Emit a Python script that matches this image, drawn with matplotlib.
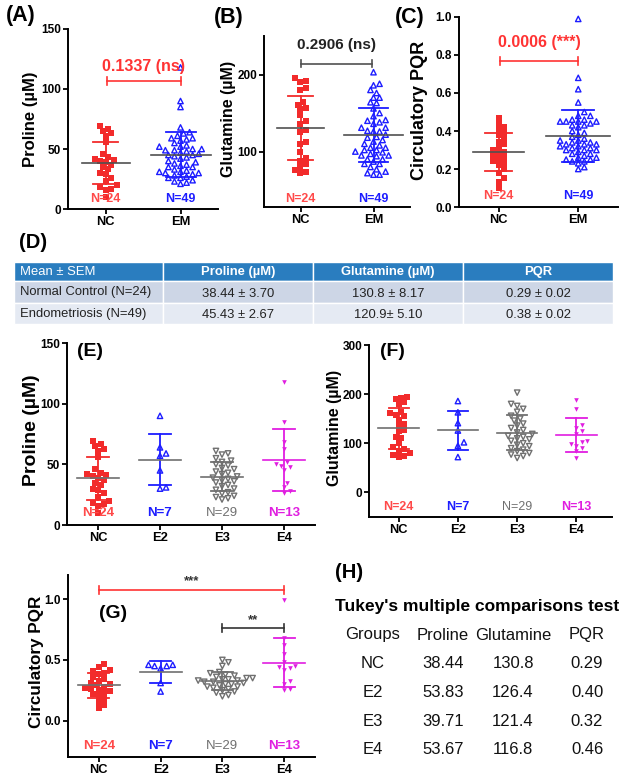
import numpy as np
import matplotlib
matplotlib.use('Agg')
import matplotlib.pyplot as plt
from matplotlib.patches import Rectangle
from matplotlib.transforms import blended_transform_factory

plt.rcParams['font.family'] = ['Liberation Sans', 'DejaVu Sans']

# ---------------- data ----------------
groups2 = ['NC', 'EM']
groups4 = ['NC', 'E2', 'E3', 'E4']
n_two = ['N=24', 'N=49']
n_four = ['N=24', 'N=7', 'N=29', 'N=13']

pro_nc = [69, 67, 65, 63, 61, 56, 46, 43, 42, 41, 40, 39, 37, 35, 33, 30, 29, 26, 23, 20, 18, 17, 16, 10]
pro_e2 = [90, 64, 59, 57, 45, 31, 30]
pro_e3 = [61, 59, 58, 55, 53, 52, 50, 49, 47, 46, 44, 43, 42, 40, 39, 38, 37, 36, 35, 33,
          32, 30, 29, 27, 26, 24, 23, 22, 21]
pro_e4 = [118, 85, 68, 63, 52, 50, 49, 48, 45, 35, 31, 28, 26]

glu_nc = [195, 192, 190, 183, 180, 164, 161, 157, 155, 148, 140, 136, 128, 125, 113, 110,
          100, 92, 88, 84, 80, 76, 74, 72]
glu_e2 = [186, 163, 141, 126, 102, 95, 72]
glu_e3 = [203, 180, 176, 170, 164, 156, 150, 146, 140, 136, 131, 127, 122, 119, 115, 113,
          110, 108, 105, 100, 97, 94, 90, 87, 84, 80, 77, 74, 70]
glu_e4 = [188, 170, 138, 131, 126, 118, 105, 102, 99, 95, 90, 84, 70]

pqr_nc = [0.47, 0.44, 0.42, 0.41, 0.39, 0.38, 0.36, 0.34, 0.33, 0.31, 0.30, 0.29, 0.28,
          0.27, 0.26, 0.25, 0.24, 0.23, 0.22, 0.20, 0.18, 0.15, 0.13, 0.10]
pqr_e2 = [0.46, 0.46, 0.45, 0.45, 0.43, 0.31, 0.24]
pqr_e3 = [0.50, 0.48, 0.45, 0.40, 0.39, 0.38, 0.37, 0.36, 0.35, 0.35, 0.34, 0.34, 0.33,
          0.33, 0.32, 0.32, 0.31, 0.30, 0.30, 0.29, 0.28, 0.28, 0.27, 0.26, 0.25, 0.24,
          0.23, 0.21, 0.20]
pqr_e4 = [0.99, 0.68, 0.62, 0.55, 0.48, 0.45, 0.44, 0.43, 0.42, 0.33, 0.30, 0.26, 0.25]

pval_a = '0.1337 (ns)'
pval_b = '0.2906 (ns)'
pval_c = '0.0006 (***)'
sig_g_long = '***'
sig_g_short = '**'

table_d_header = ['Mean ± SEM', 'Proline (µM)', 'Glutamine (µM)', 'PQR']
table_d_rows = [['Normal Control (N=24)', '38.44 ± 3.70', '130.8 ± 8.17', '0.29 ± 0.02'],
                ['Endometriosis (N=49)', '45.43 ± 2.67', '120.9± 5.10', '0.38 ± 0.02']]

tukey_title = "Tukey's multiple comparisons test"
tukey_header = ['Groups', 'Proline', 'Glutamine', 'PQR']
tukey_rows = [['NC', '38.44', '130.8', '0.29'],
              ['E2', '53.83', '126.4', '0.40'],
              ['E3', '39.71', '121.4', '0.32'],
              ['E4', '53.67', '116.8', '0.46']]

# ---------------- styling ----------------
RED = '#f22b2b'
RED_T = '#ff4a4a'
BLUE = '#1d1dff'
GRAY = '#707070'
MAG = '#e01ee0'
MEANC = '#505050'

W, H = 625, 780
fig = plt.figure(figsize=(W / 100, H / 100), dpi=100)


def ax_at(l, t, r, b):
    return fig.add_axes([l / W, 1 - b / H, (r - l) / W, (b - t) / H])


def ftext(x, y, s, **kw):
    fig.text(x / W, 1 - y / H, s, **kw)


def style(ax, xlabels, ylim, yticks, yticklabels, xlim):
    ax.set_xlim(*xlim)
    ax.set_ylim(*ylim)
    for sp in ['top', 'right']:
        ax.spines[sp].set_visible(False)
    for sp in ['left', 'bottom']:
        ax.spines[sp].set_linewidth(1.4)
    ax.set_xticks(range(len(xlabels)))
    ax.set_xticklabels(xlabels, fontsize=9.3, fontweight='bold')
    ax.set_yticks(yticks)
    ax.set_yticklabels(yticklabels, fontsize=8.5, fontweight='bold')
    ax.tick_params(direction='out', length=3.5, width=1.3, pad=1.5)
    ax.patch.set_alpha(0)


def swarm(ax, xc, vals, d):
    vals = np.asarray(vals, float)
    pts = ax.transData.transform(np.column_stack([np.full(len(vals), float(xc)), vals]))
    x0 = pts[0, 0]
    ys = pts[:, 1]
    order = np.argsort(ys)
    placed = []
    xs = np.zeros(len(vals))
    step = d * 0.55
    for i in order:
        y = ys[i]
        k = 0
        chosen = None
        while chosen is None:
            cands = [0.0] if k == 0 else [k * step, -k * step]
            for c in cands:
                ok = True
                for (px, py) in placed:
                    if (px - c) ** 2 + (py - y) ** 2 < d * d:
                        ok = False
                        break
                if ok:
                    chosen = c
                    break
            k += 1
        placed.append((chosen, y))
        xs[i] = x0 + chosen
    back = ax.transData.inverted().transform(np.column_stack([xs, ys]))
    return back[:, 0]


def points(ax, xc, vals, kind, color, d):
    xs = swarm(ax, xc, vals, d)
    if kind == 'sq':
        ax.scatter(xs, vals, marker='s', s=13, color=color, lw=0, zorder=3, clip_on=False)
    elif kind == 'up_open':
        ax.scatter(xs, vals, marker='^', s=15, facecolors='none', edgecolors=color,
                   linewidths=1.0, zorder=3, clip_on=False)
    elif kind == 'dn_open':
        ax.scatter(xs, vals, marker='v', s=15, facecolors='none', edgecolors=color,
                   linewidths=1.0, zorder=3, clip_on=False)
    elif kind == 'dn_fill':
        ax.scatter(xs, vals, marker='v', s=11, color=color, lw=0, zorder=3, clip_on=False)


def stats(ax, xc, vals, color, meancolor, mw, cw):
    m = np.mean(vals)
    sd = np.std(vals, ddof=1)
    ax.plot([xc, xc], [m - sd, m + sd], color=color, lw=1.3, zorder=4)
    ax.plot([xc - cw, xc + cw], [m + sd] * 2, color=color, lw=1.3, zorder=4)
    ax.plot([xc - cw, xc + cw], [m - sd] * 2, color=color, lw=1.3, zorder=4)
    ax.plot([xc - mw, xc + mw], [m] * 2, color=meancolor, lw=1.2, zorder=5)


def bracket(ax, x1, x2, y, color, text, ty, fs, fw='bold', tcolor=None):
    ylo, yhi = ax.get_ylim()
    h = 0.022 * (yhi - ylo)
    ax.plot([x1, x2], [y, y], color=color, lw=1.2, zorder=5)
    for x in (x1, x2):
        ax.plot([x, x], [y - h, y + h], color=color, lw=1.2, zorder=5)
    ax.text((x1 + x2) / 2, ty, text, color=tcolor or color, fontsize=fs, fontweight=fw,
            ha='center', va='center')


def nlabels(ax, labels, colors, yfrac, weights, fs=9):
    tr = blended_transform_factory(ax.transData, ax.transAxes)
    for i, (lab, c, w) in enumerate(zip(labels, colors, weights)):
        ax.text(i, yfrac, lab, color=c, fontsize=fs, fontweight=w, ha='center',
                va='center', transform=tr, zorder=6)


em_pro = pro_e2 + pro_e3 + pro_e4
em_glu = glu_e2 + glu_e3 + glu_e4
em_pqr = pqr_e2 + pqr_e3 + pqr_e4

# ---------------- Panel A ----------------
axA = ax_at(68, 29, 218, 209)
style(axA, groups2, (0, 150), [0, 50, 100, 150], ['0', '50', '100', '150'], (-0.5, 1.5))
points(axA, 0, pro_nc, 'sq', RED, 5.0)
points(axA, 1, em_pro, 'up_open', BLUE, 5.5)
stats(axA, 0, pro_nc, RED, MEANC, 0.32, 0.17)
stats(axA, 1, em_pro, BLUE, MEANC, 0.40, 0.20)
bracket(axA, 0.02, 1.0, 107, '#ff3333', pval_a, 119, 11.5)
nlabels(axA, n_two, [RED_T, BLUE], 0.055, ['bold', 'bold'])
ftext(21, 16, '(A)', fontsize=15.5, fontweight='bold', ha='center', va='center')
ftext(30, 119, 'Proline (µM)', fontsize=12, fontweight='bold', rotation=90,
      ha='center', va='center')

# ---------------- Panel B ----------------
axB = ax_at(264, 36, 410, 207)
style(axB, groups2, (28, 250), [100, 200], ['100', '200'], (-0.5, 1.5))
points(axB, 0, glu_nc, 'sq', RED, 5.0)
points(axB, 1, em_glu, 'up_open', BLUE, 5.5)
stats(axB, 0, glu_nc, RED, MEANC, 0.32, 0.17)
stats(axB, 1, em_glu, BLUE, MEANC, 0.40, 0.20)
bracket(axB, 0.0, 0.98, 214, '#505050', pval_b, 238, 11, tcolor='#222222')
nlabels(axB, n_two, [RED_T, BLUE], 0.047, ['bold', 'bold'])
ftext(229, 17, '(B)', fontsize=15.5, fontweight='bold', ha='center', va='center')
ftext(228, 119, 'Glutamine (µM)', fontsize=11.5, fontweight='bold', rotation=90,
      ha='center', va='center')

# ---------------- Panel C ----------------
axC = ax_at(459, 17, 618, 207)
style(axC, groups2, (0, 1.0), [0, 0.2, 0.4, 0.6, 0.8, 1.0],
      ['0.0', '0.2', '0.4', '0.6', '0.8', '1.0'], (-0.5, 1.5))
points(axC, 0, pqr_nc, 'sq', RED, 5.0)
points(axC, 1, em_pqr, 'up_open', BLUE, 5.5)
stats(axC, 0, pqr_nc, RED, MEANC, 0.32, 0.17)
stats(axC, 1, em_pqr, BLUE, MEANC, 0.40, 0.20)
bracket(axC, 0.02, 1.0, 0.77, '#ff3333', pval_c, 0.865, 11.5)
nlabels(axC, n_two, [RED_T, BLUE], 0.058, ['bold', 'bold'])
ftext(410, 17, '(C)', fontsize=15.5, fontweight='bold', ha='center', va='center')
ftext(420, 110, 'Circulatory PQR', fontsize=13, fontweight='bold', rotation=90,
      ha='center', va='center')

# ---------------- Panel D (table) ----------------
ftext(33, 243, '(D)', fontsize=14.5, fontweight='bold', ha='center', va='center')
col_edges = [14, 163, 313, 463, 613]
row_edges = [262, 281, 303, 324]
row_colors = ['#2a7dbf', '#cdd6e6', '#e5eaf3']
for r in range(3):
    for c in range(4):
        x0, x1 = col_edges[c], col_edges[c + 1]
        y0, y1 = row_edges[r], row_edges[r + 1]
        fig.patches.append(Rectangle((x0 / W, 1 - y1 / H), (x1 - x0) / W, (y1 - y0) / H,
                                     transform=fig.transFigure, facecolor=row_colors[r],
                                     edgecolor='white', lw=1.0, zorder=0))
for c, txt in enumerate(table_d_header):
    if c == 0:
        ftext(20, 272, txt, fontsize=9.4, color='white', ha='left', va='center')
    else:
        ftext((col_edges[c] + col_edges[c + 1]) / 2, 272, txt, fontsize=9.4,
              color='white', fontweight='bold', ha='center', va='center')
for r, row in enumerate(table_d_rows):
    yy = (row_edges[r + 1] + row_edges[r + 2]) / 2
    for c, txt in enumerate(row):
        if c == 0:
            ftext(20, yy, txt, fontsize=9.4, color='#222222', ha='left', va='center')
        else:
            ftext((col_edges[c] + col_edges[c + 1]) / 2, yy + 2, txt, fontsize=9.4,
                  color='#222222', ha='center', va='center')

# ---------------- Panels E-G ----------------
colors4 = [RED, BLUE, GRAY, MAG]
ncol4 = [RED_T, BLUE, GRAY, MAG]
kinds4 = ['sq', 'up_open', 'dn_open', 'dn_fill']
dists4 = [5.0, 5.5, 5.5, 5.0]
meancols4 = [GRAY, GRAY, GRAY, MAG]
nweights4 = ['bold', 'bold', 'normal', 'bold']


def four_panel(ax, datasets):
    for i, vals in enumerate(datasets):
        points(ax, i, vals, kinds4[i], colors4[i], dists4[i])
        stats(ax, i, vals, colors4[i], meancols4[i], 0.34, 0.17)


axE = ax_at(67, 343, 315, 525)
style(axE, groups4, (0, 150), [0, 50, 100, 150], ['0', '50', '100', '150'], (-0.5, 3.5))
four_panel(axE, [pro_nc, pro_e2, pro_e3, pro_e4])
nlabels(axE, n_four, ncol4, 0.066, nweights4, fs=9.5)
ftext(90, 352, '(E)', fontsize=14, fontweight='bold', ha='center', va='center')
ftext(31, 430, 'Proline (µM)', fontsize=14, fontweight='bold', rotation=90,
      ha='center', va='center')

axF = ax_at(369, 345, 612, 517)
style(axF, groups4, (-50, 300), [0, 100, 200, 300], ['0', '100', '200', '300'],
      (-0.5, 3.6))
four_panel(axF, [glu_nc, glu_e2, glu_e3, glu_e4])
nlabels(axF, n_four, ncol4, 0.058, nweights4, fs=9)
ftext(392, 352, '(F)', fontsize=14, fontweight='bold', ha='center', va='center')
ftext(335, 428, 'Glutamine (µM)', fontsize=11.5, fontweight='bold', rotation=90,
      ha='center', va='center')

axG = ax_at(68, 575, 315, 757)
style(axG, groups4, (-0.3, 1.2), [0.0, 0.5, 1.0], ['0.0', '0.5', '1.0'], (-0.5, 3.5))
four_panel(axG, [pqr_nc, pqr_e2, pqr_e3, pqr_e4])
bracket(axG, 0, 3, 1.08, '#ff3333', sig_g_long, 1.15, 9.5, tcolor='#333333')
bracket(axG, 2, 3, 0.76, '#333333', sig_g_short, 0.83, 9.5)
nlabels(axG, n_four, ncol4, 0.06, nweights4, fs=9.5)
ftext(113, 613, '(G)', fontsize=14, fontweight='bold', ha='center', va='center')
ftext(37, 662, 'Circulatory PQR', fontsize=12.3, fontweight='bold', rotation=90,
      ha='center', va='center')

# ---------------- Panel H ----------------
ftext(349, 572, '(H)', fontsize=14.5, fontweight='bold', ha='center', va='center')
ftext(335, 607, tukey_title, fontsize=12.5, fontweight='bold', ha='left', va='center')
hx = [373, 443, 513, 587]
for x, txt in zip(hx, tukey_header):
    ftext(x, 635, txt, fontsize=12, ha='center', va='center', color='#111111')
for r, row in enumerate(tukey_rows):
    yy = 664 + r * 28.5
    for x, txt in zip(hx, row):
        ftext(x, yy, txt, fontsize=12, ha='center', va='center', color='#111111')

fig.savefig('out.png', dpi=100)
